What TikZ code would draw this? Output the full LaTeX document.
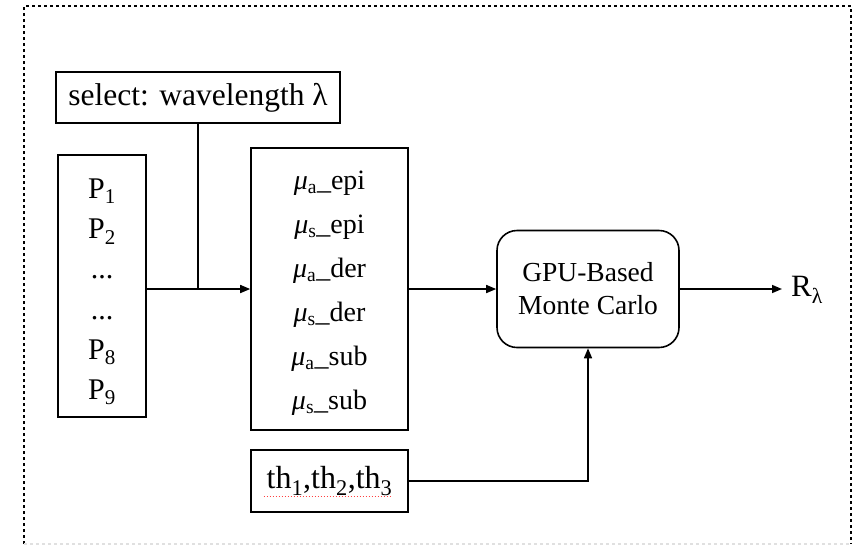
\documentclass[tikz,border=0pt]{standalone}
\usepackage{fontspec}
\setmainfont{Liberation Serif}
\usetikzlibrary{arrows.meta,calc}
\begin{document}
\begin{tikzpicture}[x=1pt,y=-1pt,
  box/.style={draw, line width=1.6pt, inner sep=0pt},
  conn/.style={line width=1.6pt},
  arr/.style={conn, -{Triangle[length=10pt,width=8pt]}},
  lbl/.style={inner sep=0pt, anchor=center},
  frame/.style={dash pattern=on 3pt off 3pt, line width=1.5pt}]
\useasboundingbox (0,0) rectangle (856,547);
\draw[frame] (24,544) -- (24,6) -- (851,6) -- (851,544);
\draw[frame, black!12] (24,544) -- (851,544);

\node[box, minimum width=284pt, minimum height=51pt, font=\fontsize{31.5}{36}\selectfont] (sel) at (198,97.5) {select: wavelength λ};

\node[box, minimum width=88pt, minimum height=262pt] (pbox) at (102,286) {};
\node[lbl, align=center, font=\fontsize{30}{40.2}\selectfont] (ptext) at (102,292)
  {P\textsubscript{1}\\P\textsubscript{2}\\...\\...\\P\textsubscript{8}\\P\textsubscript{9}};

\node[box, minimum width=157pt, minimum height=282pt] (mbox) at (329.5,289) {};
\node[lbl, align=center, font=\fontsize{28}{44}\selectfont] (mtext) at (329.5,293)
  {{\itshape μ}\textsubscript{a}\_epi\\{\itshape μ}\textsubscript{s}\_epi\\{\itshape μ}\textsubscript{a}\_der\\{\itshape μ}\textsubscript{s}\_der\\{\itshape μ}\textsubscript{a}\_sub\\{\itshape μ}\textsubscript{s}\_sub};

\node[box, rounded corners=20pt, minimum width=182pt, minimum height=117pt, align=center, font=\fontsize{27.5}{33}\selectfont] (gpu) at (588,289) {GPU-Based\\Monte Carlo};

\node[anchor=west, inner xsep=9pt, inner ysep=0pt, font=\fontsize{31}{36}\selectfont] (r) at (782,290) {R\textsubscript{λ}};

\node[box, minimum width=157pt, minimum height=62pt, font=\fontsize{32}{36}\selectfont] (th) at (329.5,481) {th\textsubscript{1},th\textsubscript{2},th\textsubscript{3}};
\draw[red!75, line width=1pt, dash pattern=on 1.5pt off 1.5pt] ($(th.center)+(-66,15)$) -- ($(th.center)+(63,15)$);

\draw[conn] (sel.south) -- (sel.south |- mbox.west);
\draw[arr] (pbox.east |- mbox.west) -- (mbox.west);
\draw[arr] (mbox.east) -- (mbox.east -| gpu.west);
\draw[arr] (gpu.east) -- (gpu.east -| r.west);
\draw[arr] (th.east) -| (gpu.south);
\end{tikzpicture}
\end{document}
